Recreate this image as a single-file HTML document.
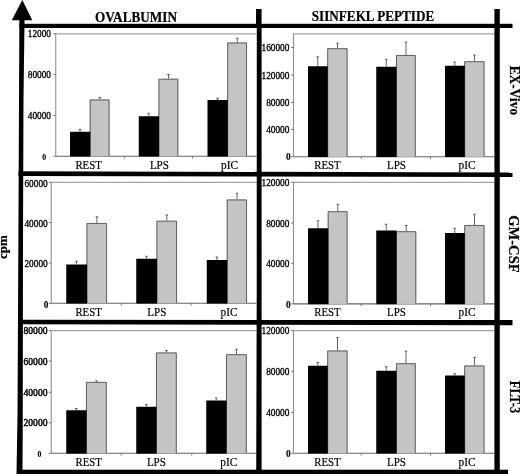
<!DOCTYPE html>
<html><head><meta charset="utf-8"><title>Figure</title>
<style>
html,body{margin:0;padding:0;background:#fff;}
svg{display:block;font-family:"Liberation Serif","DejaVu Serif",serif;}
.yl{font-size:9.3px;text-anchor:end;fill:#000;stroke:#000;stroke-width:0.3px;}
.xl{font-size:12px;text-anchor:middle;fill:#000;stroke:#000;stroke-width:0.2px;}
.b{font-weight:bold;fill:#000;stroke:#000;stroke-width:0.2px;}
</style></head><body>
<svg width="520" height="474" viewBox="0 0 520 474">
<rect width="520" height="474" fill="#fff"/>

<path d="M55.75 156.25V33.75" fill="none" stroke="#909090" stroke-width="1.1"/>
<path d="M55.25 33.85H256.5" fill="none" stroke="#a4a4a4" stroke-width="1.4"/>
<path d="M55.75 156.25H256.5" fill="none" stroke="#666" stroke-width="1.1"/>
<path d="M53.35 33.75H55.75" stroke="#666" stroke-width="0.9"/>
<text class="yl" x="51" y="37.35">12000</text>
<path d="M53.35 74.6H55.75" stroke="#666" stroke-width="0.9"/>
<text class="yl" x="51" y="78.19999999999999">80000</text>
<path d="M53.35 115.5H55.75" stroke="#666" stroke-width="0.9"/>
<text class="yl" x="51" y="119.1">40000</text>
<path d="M53.35 156.25H55.75" stroke="#666" stroke-width="0.9"/>
<text class="yl" x="46.2" y="159.55" style="font-size:7.8px;font-weight:bold;stroke-width:0.1px">0</text>
<path d="M124.5 156.25v2.2" stroke="#666" stroke-width="0.9"/>
<path d="M192.5 156.25v2.2" stroke="#666" stroke-width="0.9"/>
<path d="M80.0 131.75V129.5M78.7 129.5h2.6" stroke="#4a4a4a" stroke-width="0.85" fill="none"/>
<path d="M99.75 99.5V97.5M98.45 97.5h2.6" stroke="#4a4a4a" stroke-width="0.85" fill="none"/>
<path d="M148.75 116.25V113.25M147.45 113.25h2.6" stroke="#4a4a4a" stroke-width="0.85" fill="none"/>
<path d="M168.5 78.75V74.5M167.2 74.5h2.6" stroke="#4a4a4a" stroke-width="0.85" fill="none"/>
<path d="M217.5 100V98.25M216.2 98.25h2.6" stroke="#4a4a4a" stroke-width="0.85" fill="none"/>
<path d="M237.25 42.5V38.25M235.95 38.25h2.6" stroke="#4a4a4a" stroke-width="0.85" fill="none"/>
<rect x="89.7" y="99.5" width="19.8" height="56.75" fill="#c4c4c4"/>
<path d="M90.2 156.25V99.95H109.05V156.25" fill="none" stroke="#555" stroke-width="0.9"/>
<rect x="158.45" y="78.75" width="19.8" height="77.5" fill="#c4c4c4"/>
<path d="M158.95 156.25V79.2H177.8V156.25" fill="none" stroke="#555" stroke-width="0.9"/>
<rect x="227.2" y="42.5" width="19.8" height="113.75" fill="#c4c4c4"/>
<path d="M227.7 156.25V42.95H246.55V156.25" fill="none" stroke="#555" stroke-width="0.9"/>
<rect x="70" y="131.75" width="20.3" height="24.8" fill="#000"/>
<rect x="138.75" y="116.25" width="20.3" height="40.3" fill="#000"/>
<rect x="207.5" y="100" width="20.3" height="56.55" fill="#000"/>
<text class="xl" x="88.6" y="168.75" textLength="26.4" lengthAdjust="spacingAndGlyphs">REST</text>
<text class="xl" x="159.4" y="168.75" textLength="19" lengthAdjust="spacingAndGlyphs">LPS</text>
<text class="xl" x="229.6" y="168.75" textLength="17" lengthAdjust="spacingAndGlyphs">pIC</text>
<path d="M51.25 303.25V182.25" fill="none" stroke="#909090" stroke-width="1.1"/>
<path d="M50.75 182.35H256.5" fill="none" stroke="#a4a4a4" stroke-width="1.4"/>
<path d="M51.25 303.25H256.5" fill="none" stroke="#666" stroke-width="1.1"/>
<path d="M48.85 182.25H51.25" stroke="#666" stroke-width="0.9"/>
<text class="yl" x="47.7" y="186.55">60000</text>
<path d="M48.85 222.6H51.25" stroke="#666" stroke-width="0.9"/>
<text class="yl" x="47.7" y="226.9">40000</text>
<path d="M48.85 263H51.25" stroke="#666" stroke-width="0.9"/>
<text class="yl" x="47.7" y="267.3">20000</text>
<path d="M48.85 303.4H51.25" stroke="#666" stroke-width="0.9"/>
<text class="yl" x="48.3" y="307.7" style="font-size:9.3px;font-weight:bold;stroke-width:0.1px">0</text>
<path d="M121.25 303.25v2.2" stroke="#666" stroke-width="0.9"/>
<path d="M191 303.25v2.2" stroke="#666" stroke-width="0.9"/>
<path d="M76.5 264.5V261.25M75.2 261.25h2.6" stroke="#4a4a4a" stroke-width="0.85" fill="none"/>
<path d="M96.875 223V216.75M95.575 216.75h2.6" stroke="#4a4a4a" stroke-width="0.85" fill="none"/>
<path d="M146.5 258.75V256.25M145.2 256.25h2.6" stroke="#4a4a4a" stroke-width="0.85" fill="none"/>
<path d="M166.875 220.75V215M165.575 215h2.6" stroke="#4a4a4a" stroke-width="0.85" fill="none"/>
<path d="M216.875 260V257M215.575 257h2.6" stroke="#4a4a4a" stroke-width="0.85" fill="none"/>
<path d="M237.0 199.5V193.25M235.7 193.25h2.6" stroke="#4a4a4a" stroke-width="0.85" fill="none"/>
<rect x="86.45" y="223" width="20.55" height="80.25" fill="#c4c4c4"/>
<path d="M86.95 303.25V223.45H106.55V303.25" fill="none" stroke="#555" stroke-width="0.9"/>
<rect x="156.45" y="220.75" width="20.55" height="82.5" fill="#c4c4c4"/>
<path d="M156.95 303.25V221.2H176.55V303.25" fill="none" stroke="#555" stroke-width="0.9"/>
<rect x="226.7" y="199.5" width="20.3" height="103.75" fill="#c4c4c4"/>
<path d="M227.2 303.25V199.95H246.55V303.25" fill="none" stroke="#555" stroke-width="0.9"/>
<rect x="66.25" y="264.5" width="20.8" height="39.05" fill="#000"/>
<rect x="136.25" y="258.75" width="20.8" height="44.8" fill="#000"/>
<rect x="206.75" y="260" width="20.55" height="43.55" fill="#000"/>
<text class="xl" x="88.6" y="316.25" textLength="26.4" lengthAdjust="spacingAndGlyphs">REST</text>
<text class="xl" x="156.8" y="316.25" textLength="19" lengthAdjust="spacingAndGlyphs">LPS</text>
<text class="xl" x="229" y="316.25" textLength="17" lengthAdjust="spacingAndGlyphs">pIC</text>
<path d="M51.25 453.3V330.5" fill="none" stroke="#909090" stroke-width="1.1"/>
<path d="M50.75 330.6H256.5" fill="none" stroke="#a4a4a4" stroke-width="1.4"/>
<path d="M51.25 453.3H256.5" fill="none" stroke="#666" stroke-width="1.1"/>
<path d="M48.85 330.5H51.25" stroke="#666" stroke-width="0.9"/>
<text class="yl" x="47.5" y="334.1" style="font-size:9.6px;stroke-width:0.42px">80000</text>
<path d="M48.85 361H51.25" stroke="#666" stroke-width="0.9"/>
<text class="yl" x="47.5" y="364.6" style="font-size:9.6px;stroke-width:0.42px">60000</text>
<path d="M48.85 392.25H51.25" stroke="#666" stroke-width="0.9"/>
<text class="yl" x="47.5" y="395.85" style="font-size:9.6px;stroke-width:0.42px">40000</text>
<path d="M48.85 422.75H51.25" stroke="#666" stroke-width="0.9"/>
<text class="yl" x="47.5" y="426.35" style="font-size:9.6px;stroke-width:0.42px">20000</text>
<path d="M48.85 453.3H51.25" stroke="#666" stroke-width="0.9"/>
<text class="yl" x="41.3" y="456.6" style="font-size:7.8px;font-weight:bold;stroke-width:0.1px">0</text>
<path d="M121.25 453.3v2.2" stroke="#666" stroke-width="0.9"/>
<path d="M191.75 453.3v2.2" stroke="#666" stroke-width="0.9"/>
<path d="M76.25 410.25V408.5M74.95 408.5h2.6" stroke="#4a4a4a" stroke-width="0.85" fill="none"/>
<path d="M96.5 381.9V380.8M95.2 380.8h2.6" stroke="#4a4a4a" stroke-width="0.85" fill="none"/>
<path d="M146.25 406.75V404.5M144.95 404.5h2.6" stroke="#4a4a4a" stroke-width="0.85" fill="none"/>
<path d="M166.5 352.5V350.5M165.2 350.5h2.6" stroke="#4a4a4a" stroke-width="0.85" fill="none"/>
<path d="M216.25 400.5V398M214.95 398h2.6" stroke="#4a4a4a" stroke-width="0.85" fill="none"/>
<path d="M236.5 354.25V349.25M235.2 349.25h2.6" stroke="#4a4a4a" stroke-width="0.85" fill="none"/>
<rect x="85.95" y="381.9" width="20.8" height="71.40000000000003" fill="#c4c4c4"/>
<path d="M86.45 453.3V382.34999999999997H106.3V453.3" fill="none" stroke="#555" stroke-width="0.9"/>
<rect x="155.95" y="352.5" width="20.8" height="100.80000000000001" fill="#c4c4c4"/>
<path d="M156.45 453.3V352.95H176.3V453.3" fill="none" stroke="#555" stroke-width="0.9"/>
<rect x="225.95" y="354.25" width="20.8" height="99.05000000000001" fill="#c4c4c4"/>
<path d="M226.45 453.3V354.7H246.3V453.3" fill="none" stroke="#555" stroke-width="0.9"/>
<rect x="66.25" y="410.25" width="20.3" height="43.35000000000001" fill="#000"/>
<rect x="136.25" y="406.75" width="20.3" height="46.85000000000001" fill="#000"/>
<rect x="206.25" y="400.5" width="20.3" height="53.10000000000001" fill="#000"/>
<text class="xl" x="88.75" y="466" textLength="26.4" lengthAdjust="spacingAndGlyphs">REST</text>
<text class="xl" x="156.4" y="466" textLength="19" lengthAdjust="spacingAndGlyphs">LPS</text>
<text class="xl" x="228.75" y="466" textLength="17" lengthAdjust="spacingAndGlyphs">pIC</text>
<path d="M293.5 156.75V33.75" fill="none" stroke="#909090" stroke-width="1.1"/>
<path d="M293.0 33.85H494.5" fill="none" stroke="#a4a4a4" stroke-width="1.4"/>
<path d="M293.5 156.75H494.5" fill="none" stroke="#666" stroke-width="1.1"/>
<path d="M291.1 47.5H293.5" stroke="#666" stroke-width="0.9"/>
<text class="yl" x="289.4" y="51.1">160000</text>
<path d="M291.1 75H293.5" stroke="#666" stroke-width="0.9"/>
<text class="yl" x="289.4" y="78.6">120000</text>
<path d="M291.1 102.5H293.5" stroke="#666" stroke-width="0.9"/>
<text class="yl" x="289.4" y="106.1">80000</text>
<path d="M291.1 129.5H293.5" stroke="#666" stroke-width="0.9"/>
<text class="yl" x="289.4" y="133.1">40000</text>
<path d="M291.1 156.75H293.5" stroke="#666" stroke-width="0.9"/>
<text class="yl" x="290.6" y="160.35" style="font-size:9.3px;font-weight:bold;stroke-width:0.1px">0</text>
<path d="M361.25 156.75v2.2" stroke="#666" stroke-width="0.9"/>
<path d="M430.5 156.75v2.2" stroke="#666" stroke-width="0.9"/>
<path d="M317.75 66.25V56.75M316.45 56.75h2.6" stroke="#4a4a4a" stroke-width="0.85" fill="none"/>
<path d="M337.5 48.25V43.25M336.2 43.25h2.6" stroke="#4a4a4a" stroke-width="0.85" fill="none"/>
<path d="M386.25 66.75V59.25M384.95 59.25h2.6" stroke="#4a4a4a" stroke-width="0.85" fill="none"/>
<path d="M406.0 55V42M404.7 42h2.6" stroke="#4a4a4a" stroke-width="0.85" fill="none"/>
<path d="M454.75 65.75V62M453.45 62h2.6" stroke="#4a4a4a" stroke-width="0.85" fill="none"/>
<path d="M474.5 61.25V55M473.2 55h2.6" stroke="#4a4a4a" stroke-width="0.85" fill="none"/>
<rect x="327.2" y="48.25" width="20.3" height="108.5" fill="#c4c4c4"/>
<path d="M327.7 156.75V48.7H347.05V156.75" fill="none" stroke="#555" stroke-width="0.9"/>
<rect x="395.95" y="55" width="19.8" height="101.75" fill="#c4c4c4"/>
<path d="M396.45 156.75V55.45H415.3V156.75" fill="none" stroke="#555" stroke-width="0.9"/>
<rect x="464.2" y="61.25" width="20.3" height="95.5" fill="#c4c4c4"/>
<path d="M464.7 156.75V61.7H484.05V156.75" fill="none" stroke="#555" stroke-width="0.9"/>
<rect x="308" y="66.25" width="19.8" height="90.8" fill="#000"/>
<rect x="376.25" y="66.75" width="20.3" height="90.3" fill="#000"/>
<rect x="445" y="65.75" width="19.8" height="91.3" fill="#000"/>
<text class="xl" x="327.5" y="169.25" textLength="26.4" lengthAdjust="spacingAndGlyphs">REST</text>
<text class="xl" x="396.5" y="169.25" textLength="19" lengthAdjust="spacingAndGlyphs">LPS</text>
<text class="xl" x="467" y="169.25" textLength="17" lengthAdjust="spacingAndGlyphs">pIC</text>
<path d="M293.5 303.9V182.25" fill="none" stroke="#909090" stroke-width="1.1"/>
<path d="M293.0 182.35H494.5" fill="none" stroke="#a4a4a4" stroke-width="1.4"/>
<path d="M293.5 303.9H494.5" fill="none" stroke="#666" stroke-width="1.1"/>
<path d="M291.1 182.25H293.5" stroke="#666" stroke-width="0.9"/>
<text class="yl" x="289.4" y="185.85">120000</text>
<path d="M291.1 223H293.5" stroke="#666" stroke-width="0.9"/>
<text class="yl" x="289.4" y="226.6">80000</text>
<path d="M291.1 263.25H293.5" stroke="#666" stroke-width="0.9"/>
<text class="yl" x="289.4" y="266.85">40000</text>
<path d="M291.1 303.9H293.5" stroke="#666" stroke-width="0.9"/>
<text class="yl" x="290.6" y="307.5" style="font-size:9.3px;font-weight:bold;stroke-width:0.1px">0</text>
<path d="M361.25 303.9v2.2" stroke="#666" stroke-width="0.9"/>
<path d="M430.5 303.9v2.2" stroke="#666" stroke-width="0.9"/>
<path d="M318.0 228.25V220.75M316.7 220.75h2.6" stroke="#4a4a4a" stroke-width="0.85" fill="none"/>
<path d="M337.75 211.25V204.25M336.45 204.25h2.6" stroke="#4a4a4a" stroke-width="0.85" fill="none"/>
<path d="M386.25 230.5V224.25M384.95 224.25h2.6" stroke="#4a4a4a" stroke-width="0.85" fill="none"/>
<path d="M406.25 231.25V225.5M404.95 225.5h2.6" stroke="#4a4a4a" stroke-width="0.85" fill="none"/>
<path d="M454.75 233V228.25M453.45 228.25h2.6" stroke="#4a4a4a" stroke-width="0.85" fill="none"/>
<path d="M474.5 225V214.25M473.2 214.25h2.6" stroke="#4a4a4a" stroke-width="0.85" fill="none"/>
<rect x="327.7" y="211.25" width="19.8" height="92.64999999999998" fill="#c4c4c4"/>
<path d="M328.2 303.9V211.7H347.05V303.9" fill="none" stroke="#555" stroke-width="0.9"/>
<rect x="395.95" y="231.25" width="20.3" height="72.64999999999998" fill="#c4c4c4"/>
<path d="M396.45 303.9V231.7H415.8V303.9" fill="none" stroke="#555" stroke-width="0.9"/>
<rect x="464.2" y="225" width="20.3" height="78.89999999999998" fill="#c4c4c4"/>
<path d="M464.7 303.9V225.45H484.05V303.9" fill="none" stroke="#555" stroke-width="0.9"/>
<rect x="308" y="228.25" width="20.3" height="75.94999999999997" fill="#000"/>
<rect x="376.25" y="230.5" width="20.3" height="73.69999999999997" fill="#000"/>
<rect x="445" y="233" width="19.8" height="71.19999999999997" fill="#000"/>
<text class="xl" x="327.5" y="316.25" textLength="26.4" lengthAdjust="spacingAndGlyphs">REST</text>
<text class="xl" x="396.5" y="316.25" textLength="19" lengthAdjust="spacingAndGlyphs">LPS</text>
<text class="xl" x="467" y="316.25" textLength="17" lengthAdjust="spacingAndGlyphs">pIC</text>
<path d="M293.5 453.25V330.5" fill="none" stroke="#909090" stroke-width="1.1"/>
<path d="M293.0 330.6H494.5" fill="none" stroke="#a4a4a4" stroke-width="1.4"/>
<path d="M293.5 453.25H494.5" fill="none" stroke="#666" stroke-width="1.1"/>
<path d="M291.1 330.5H293.5" stroke="#666" stroke-width="0.9"/>
<text class="yl" x="289.4" y="334.1">120000</text>
<path d="M291.1 371.25H293.5" stroke="#666" stroke-width="0.9"/>
<text class="yl" x="289.4" y="374.85">80000</text>
<path d="M291.1 412.5H293.5" stroke="#666" stroke-width="0.9"/>
<text class="yl" x="289.4" y="416.1">40000</text>
<path d="M291.1 453.25H293.5" stroke="#666" stroke-width="0.9"/>
<text class="yl" x="290.6" y="456.85" style="font-size:9.3px;font-weight:bold;stroke-width:0.1px">0</text>
<path d="M361.25 453.25v2.2" stroke="#666" stroke-width="0.9"/>
<path d="M430.5 453.25v2.2" stroke="#666" stroke-width="0.9"/>
<path d="M317.75 365.75V362.5M316.45 362.5h2.6" stroke="#4a4a4a" stroke-width="0.85" fill="none"/>
<path d="M337.5 350.5V337.5M336.2 337.5h2.6" stroke="#4a4a4a" stroke-width="0.85" fill="none"/>
<path d="M386.25 370.75V366.75M384.95 366.75h2.6" stroke="#4a4a4a" stroke-width="0.85" fill="none"/>
<path d="M406.0 363.25V351.25M404.7 351.25h2.6" stroke="#4a4a4a" stroke-width="0.85" fill="none"/>
<path d="M454.75 375.5V373.75M453.45 373.75h2.6" stroke="#4a4a4a" stroke-width="0.85" fill="none"/>
<path d="M474.5 365.5V357.5M473.2 357.5h2.6" stroke="#4a4a4a" stroke-width="0.85" fill="none"/>
<rect x="327.2" y="350.5" width="20.3" height="102.75" fill="#c4c4c4"/>
<path d="M327.7 453.25V350.95H347.05V453.25" fill="none" stroke="#555" stroke-width="0.9"/>
<rect x="395.95" y="363.25" width="19.8" height="90.0" fill="#c4c4c4"/>
<path d="M396.45 453.25V363.7H415.3V453.25" fill="none" stroke="#555" stroke-width="0.9"/>
<rect x="464.2" y="365.5" width="20.3" height="87.75" fill="#c4c4c4"/>
<path d="M464.7 453.25V365.95H484.05V453.25" fill="none" stroke="#555" stroke-width="0.9"/>
<rect x="308" y="365.75" width="19.8" height="87.8" fill="#000"/>
<rect x="376.25" y="370.75" width="20.3" height="82.8" fill="#000"/>
<rect x="445" y="375.5" width="19.8" height="78.05" fill="#000"/>
<text class="xl" x="327.5" y="466" textLength="26.4" lengthAdjust="spacingAndGlyphs">REST</text>
<text class="xl" x="396.5" y="466" textLength="19" lengthAdjust="spacingAndGlyphs">LPS</text>
<text class="xl" x="467" y="466" textLength="17" lengthAdjust="spacingAndGlyphs">pIC</text>
<g fill="#000">
<polygon points="22.3,0 32.3,20.3 11.8,20.3"/>
<polygon points="19.4,15 24.6,15 23.5,100 23,235 22.75,415 22.5,474 16.5,474 17.5,415 18.4,235 19,100"/>
<rect x="19.5" y="23.8" width="493" height="4.2"/>
<polygon points="18.5,171.3 512.5,172.5 512.5,177 18.5,176"/>
<polygon points="18.5,319.8 512.5,320 512.5,325.2 18.5,324.3"/>
<rect x="17" y="469.7" width="491" height="4.3"/>
<polygon points="256,9 261.6,9 261.6,474 256.2,474 256.7,300 256.8,28 256,24"/>
<rect x="494.4" y="9" width="5.4" height="465"/>
</g>
<text class="b" x="136" y="21.5" font-size="14" text-anchor="middle" textLength="82" lengthAdjust="spacingAndGlyphs">OVALBUMIN</text>
<text class="b" x="373" y="21.4" font-size="14" text-anchor="middle" textLength="122.5" lengthAdjust="spacingAndGlyphs">SIINFEKL PEPTIDE</text>
<text class="b" transform="translate(7,247.2) rotate(-90)" font-size="13" text-anchor="middle">cpm</text>
<text class="b" transform="translate(509.9,90.4) rotate(90)" font-size="14" text-anchor="middle" textLength="49.5" lengthAdjust="spacingAndGlyphs">EX-Vivo</text>
<text class="b" transform="translate(509.4,243.9) rotate(90)" font-size="14" text-anchor="middle" textLength="57.5" lengthAdjust="spacingAndGlyphs">GM-CSF</text>
<text class="b" transform="translate(510.1,397) rotate(90)" font-size="14" text-anchor="middle" textLength="32.4" lengthAdjust="spacingAndGlyphs">FLT-3</text>
</svg></body></html>
